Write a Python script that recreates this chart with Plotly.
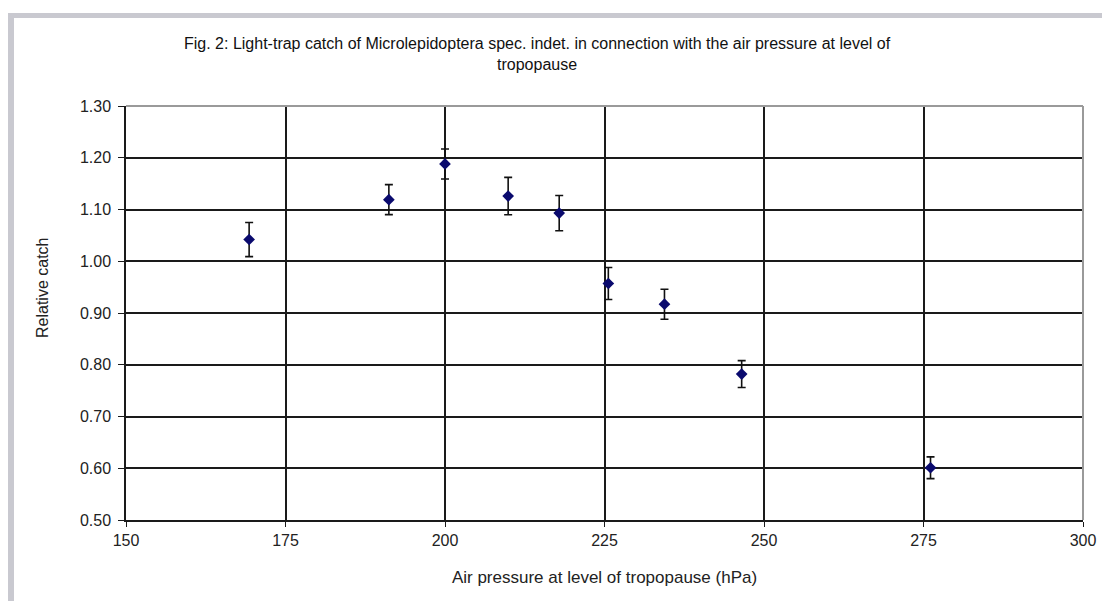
import plotly.graph_objects as go

# Data
pressure_hpa = [169.3, 191.2, 200.0, 209.9, 217.9, 225.6, 234.4, 246.5, 276.1]
relative_catch = [1.042, 1.119, 1.188, 1.126, 1.093, 0.957, 0.917, 0.782, 0.601]
catch_error = [0.033, 0.029, 0.029, 0.036, 0.034, 0.031, 0.029, 0.026, 0.021]

x_ticks = [150, 175, 200, 225, 250, 275, 300]
y_ticks = [0.50, 0.60, 0.70, 0.80, 0.90, 1.00, 1.10, 1.20, 1.30]
y_tick_labels = ["0.50", "0.60", "0.70", "0.80", "0.90", "1.00", "1.10", "1.20", "1.30"]

title_text = ("Fig. 2: Light-trap catch of Microlepidoptera spec. indet. in connection with the air pressure "
              "at level of<br>tropopause")
x_title = "Air pressure at level of tropopause (hPa)"
y_title = "Relative catch"

W, H = 1102, 601
L, R, T, B = 126, 19, 106, 81
pw, ph = W - L - R, H - T - B


def px(xp):
    return (xp - L) / pw


def py(yp):
    return (H - B - yp) / ph


FONT = "Liberation Sans, Arial, sans-serif"
TXT = "#222222"

fig = go.Figure()
fig.add_trace(go.Scatter(
    x=pressure_hpa, y=relative_catch, mode="markers",
    marker=dict(symbol="diamond", size=9, color="#0a0a6e", line=dict(width=0)),
    error_y=dict(type="data", array=catch_error, visible=True,
                 color="#111111", thickness=1.6, width=4),
    showlegend=False,
))

fig.update_layout(
    width=W, height=H,
    margin=dict(l=L, r=R, t=T, b=B, pad=0),
    paper_bgcolor="white", plot_bgcolor="white",
    font=dict(family=FONT, size=16, color=TXT),
    xaxis=dict(range=[150, 300], tickvals=x_ticks, ticktext=[str(v) for v in x_ticks],
               showgrid=True, gridcolor="#1a1a1a", gridwidth=1.5,
               showline=True, linecolor="#1a1a1a", linewidth=1.5,
               ticks="outside", ticklen=5, tickcolor="#1a1a1a", tickwidth=1.3,
               zeroline=False, tickfont=dict(size=16, color=TXT), automargin=False,
               ticklabeloverflow="allow",
               title=dict(text=x_title, font=dict(size=17, color=TXT), standoff=23)),
    yaxis=dict(range=[0.5, 1.3], tickvals=y_ticks, ticktext=y_tick_labels,
               showgrid=True, gridcolor="#1a1a1a", gridwidth=1.5,
               showline=True, linecolor="#1a1a1a", linewidth=1.5,
               ticks="outside", ticklen=6, tickcolor="#1a1a1a", tickwidth=1.3,
               ticklabelstandoff=4, automargin=False,
               zeroline=False, tickfont=dict(size=16, color=TXT)),
    annotations=[
        dict(text=title_text, xref="paper", yref="paper", x=px(537), y=py(54),
             xanchor="center", yanchor="middle", showarrow=False, align="center",
             font=dict(family=FONT, size=16, color="#111111")),
        dict(text=y_title, textangle=-90, xref="paper", yref="paper",
             x=px(42), y=py(288), xanchor="center", yanchor="middle", showarrow=False,
             font=dict(family=FONT, size=16, color=TXT)),
    ],
    shapes=[
        # gray frame of the page (top and left)
        dict(type="rect", xref="paper", yref="paper", x0=px(8), x1=px(W + 5), y0=py(18), y1=py(13),
             fillcolor="#c9c9d0", line=dict(width=0), layer="above"),
        dict(type="rect", xref="paper", yref="paper", x0=px(8), x1=px(14), y0=py(H + 5), y1=py(13),
             fillcolor="#c9c9d0", line=dict(width=0), layer="above"),
        # lighter plot border at top and right
        dict(type="line", xref="paper", yref="paper", x0=0, x1=1, y0=1, y1=1,
             line=dict(color="#9a9a9a", width=2), layer="above"),
        dict(type="line", xref="paper", yref="paper", x0=1, x1=1, y0=0, y1=1,
             line=dict(color="#9a9a9a", width=2), layer="above"),
    ],
)

fig.write_html("out.html", config={"displayModeBar": False},
               post_script="document.body.style.margin='0px';document.body.style.overflow='hidden';")
